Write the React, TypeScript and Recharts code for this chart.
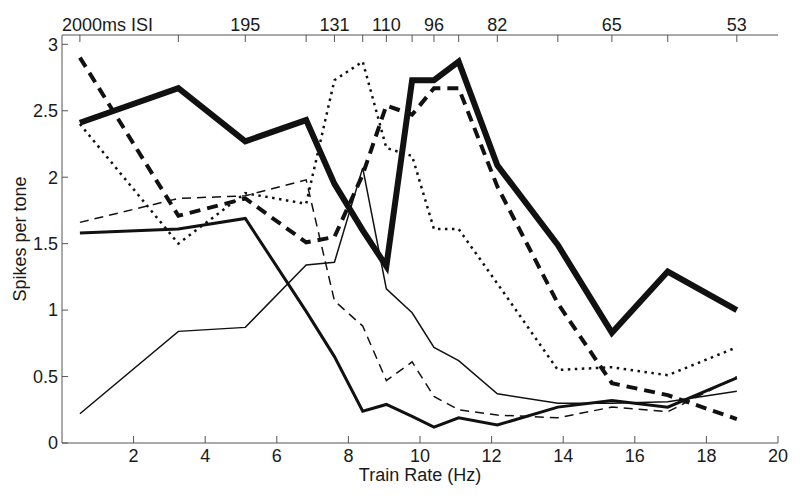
import { LineChart, Line, XAxis, YAxis } from "recharts";

// train rates (Hz) at which every unit was measured
const rates = [0.5, 3.25, 5.12, 6.82, 7.61, 8.4, 9.06, 9.78, 10.39, 11.08, 12.16, 13.85, 15.36, 16.92, 18.85];
// top axis: inter-stimulus interval, only some ticks labelled
const isiLabels = ["2000ms ISI", "", "195", "", "131", "", "110", "", "96", "", "82", "", "65", "", "53"];
const rateTicks = [2, 4, 6, 8, 10, 12, 14, 16, 18, 20];
const spikeTicks = [0, 0.5, 1, 1.5, 2, 2.5, 3];

// spikes per tone, one array per unit
const thickSolid = [2.41, 2.67, 2.27, 2.43, 1.95, 1.6, 1.33, 2.73, 2.73, 2.87, 2.09, 1.49, 0.83, 1.29, 1.0];
const thickDashed = [2.9, 1.71, 1.84, 1.51, 1.55, 2.02, 2.54, 2.47, 2.67, 2.67, 1.93, 1.05, 0.45, 0.36, 0.18];
const dotted = [2.4, 1.5, 1.88, 1.8, 2.73, 2.87, 2.22, 2.16, 1.61, 1.61, 1.2, 0.55, 0.57, 0.51, 0.72];
const mediumSolid = [1.58, 1.61, 1.69, 0.99, 0.65, 0.24, 0.29, 0.2, 0.12, 0.19, 0.135, 0.27, 0.32, 0.27, 0.49];
const thinSolid = [0.22, 0.84, 0.87, 1.34, 1.36, 2.07, 1.16, 0.98, 0.72, 0.62, 0.37, 0.3, 0.3, 0.31, 0.39];
const thinDashed = [1.66, 1.84, 1.86, 1.98, 1.07, 0.88, 0.47, 0.61, 0.35, 0.25, 0.21, 0.19, 0.27, 0.235, 0.5];

const chartData = rates.map((rate, i) => ({
  rate,
  thickSolid: thickSolid[i],
  thickDashed: thickDashed[i],
  dotted: dotted[i],
  mediumSolid: mediumSolid[i],
  thinSolid: thinSolid[i],
  thinDashed: thinDashed[i],
}));

const FONT = "'Liberation Sans', Arial, Helvetica, sans-serif";
const INK = "#111";
const AXIS = "#555";
const tickStyle = { fill: "#1a1a1a", fontSize: 18, fontFamily: FONT };

function TopTick(props: any) {
  const { x, y, payload } = props;
  const label = isiLabels[payload.index] ?? "";
  if (!label) return null;
  const first = payload.index === 0;
  return (
    <text
      x={first ? x - 18 : x}
      y={y}
      textAnchor={first ? "start" : "middle"}
      fill="#1a1a1a"
      fontSize={18}
      fontFamily={FONT}
    >
      {label}
    </text>
  );
}

export default function App() {
  return (
    <div style={{ position: "absolute", left: 0, top: 0, width: 800, height: 500, background: "#fff" }}>
      <LineChart
        width={800}
        height={500}
        data={chartData}
        margin={{ top: 0, right: 22, left: 0, bottom: 0 }}
      >
        <XAxis
          dataKey="rate"
          type="number"
          domain={[0, 20]}
          ticks={rateTicks}
          height={57}
          stroke={AXIS}
          tickSize={-7}
          tickMargin={13}
          tick={tickStyle}
          label={{
            value: "Train Rate (Hz)",
            position: "insideBottom",
            offset: 19,
            fill: "#1a1a1a",
            fontSize: 18,
            fontFamily: FONT,
          }}
        />
        <XAxis
          xAxisId="top"
          orientation="top"
          dataKey="rate"
          type="number"
          domain={[0, 20]}
          ticks={rates}
          height={35}
          stroke={AXIS}
          tickSize={-7}
          tickMargin={11}
          tick={<TopTick />}
          interval={0}
        />
        <YAxis
          type="number"
          domain={[0, 3.07]}
          ticks={spikeTicks}
          width={62}
          stroke={AXIS}
          tickSize={-6}
          tickMargin={10}
          tick={tickStyle}
          interval={0}
          label={{
            value: "Spikes per tone",
            angle: -90,
            position: "insideLeft",
            offset: 20,
            fill: "#1a1a1a",
            fontSize: 18,
            fontFamily: FONT,
            style: { textAnchor: "middle" },
          }}
        />
        <YAxis
          yAxisId="right"
          orientation="right"
          type="number"
          domain={[0, 3.07]}
          width={0}
          stroke={AXIS}
          tick={false}
          tickLine={false}
        />
        <Line dataKey="thinSolid" stroke={INK} strokeWidth={1.5} dot={false} activeDot={false} isAnimationActive={false} />
        <Line dataKey="thinDashed" stroke={INK} strokeWidth={1.5} strokeDasharray="9 6" dot={false} activeDot={false} isAnimationActive={false} />
        <Line dataKey="dotted" stroke={INK} strokeWidth={2.5} strokeDasharray="2.5 4.5" dot={false} activeDot={false} isAnimationActive={false} />
        <Line dataKey="mediumSolid" stroke={INK} strokeWidth={3} dot={false} activeDot={false} isAnimationActive={false} />
        <Line dataKey="thickDashed" stroke={INK} strokeWidth={4} strokeDasharray="11 7" dot={false} activeDot={false} isAnimationActive={false} />
        <Line dataKey="thickSolid" stroke={INK} strokeWidth={6} dot={false} activeDot={false} isAnimationActive={false} />
      </LineChart>
    </div>
  );
}
